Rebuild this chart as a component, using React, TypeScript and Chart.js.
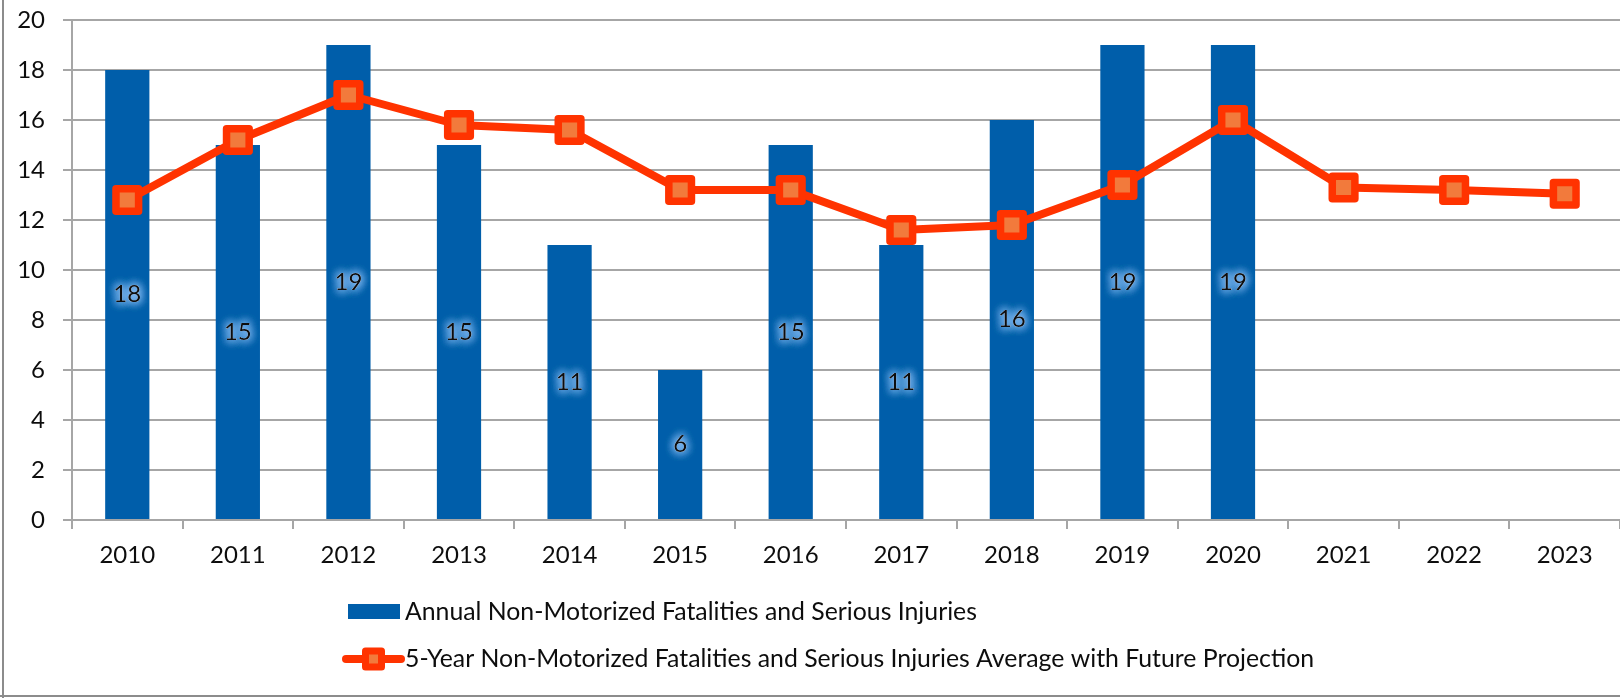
import React, { useEffect, useRef } from "react";
import { Chart, registerables } from "chart.js";

Chart.register(...registerables);

const years = ["2010", "2011", "2012", "2013", "2014", "2015", "2016", "2017", "2018", "2019", "2020", "2021", "2022", "2023"];
const annualValues = [18, 15, 19, 15, 11, 6, 15, 11, 16, 19, 19, null, null, null];
const fiveYearAvg = [12.8, 15.2, 17.0, 15.8, 15.6, 13.2, 13.2, 11.6, 11.8, 13.4, 16.0, 13.3, 13.2, 13.05];
const barLabel = "Annual Non-Motorized Fatalities and Serious Injuries";
const lineLabel = "5-Year Non-Motorized Fatalities and Serious Injuries Average with Future Projection";

const BAR_COLOR = "#005EAA";
const LINE_COLOR = "#FF3300";
const MARKER_FILL = "#F27A3C";
const GRID = "#A6A6A6";
const FONT = "Lato";
const FS = 24;
const LEGEND_FS = 24.8;

const W = 1620;
const H = 698;

function drawMarker(ctx: CanvasRenderingContext2D, x: number, y: number, side: number, lw: number) {
  ctx.save();
  ctx.lineJoin = "round";
  ctx.lineWidth = lw;
  ctx.strokeStyle = LINE_COLOR;
  ctx.fillStyle = MARKER_FILL;
  ctx.beginPath();
  ctx.rect(x - side / 2, y - side / 2, side, side);
  ctx.fill();
  ctx.stroke();
  ctx.restore();
}

const decorPlugin = {
  id: "decor",
  beforeDraw(chart: any) {
    const ctx = chart.ctx;
    ctx.save();
    ctx.fillStyle = "#ffffff";
    ctx.fillRect(0, 0, W, H);
    ctx.fillStyle = "#8C8C8C";
    ctx.fillRect(2, 0, 2, H);
    ctx.fillRect(0, 695, W, 2);
    ctx.restore();
  },
  beforeDatasetDraw(chart: any) {
    chart.ctx.lineJoin = "round";
  },
  afterDatasetsDraw(chart: any) {
    const ctx = chart.ctx;
    const meta = chart.getDatasetMeta(0);
    ctx.save();
    ctx.font = `${FS}px ${FONT}`;
    ctx.textAlign = "center";
    ctx.textBaseline = "middle";
    meta.data.forEach((bar: any, i: number) => {
      const v = annualValues[i];
      if (v == null) return;
      const x = bar.x;
      const y = (bar.y + bar.base) / 2;
      const t = String(v);
      ctx.shadowColor = "rgba(150,200,255,1)";
      ctx.shadowBlur = 10;
      ctx.fillStyle = "rgba(180,215,255,1)";
      for (let k = 0; k < 4; k++) ctx.fillText(t, x, y);
      ctx.shadowBlur = 0;
      ctx.shadowColor = "transparent";
      ctx.fillStyle = "#0D0D0D";
      ctx.fillText(t, x, y);
    });
    ctx.restore();
  },
  afterDraw(chart: any) {
    const ctx = chart.ctx;
    ctx.save();
    // bar legend
    ctx.fillStyle = BAR_COLOR;
    ctx.fillRect(348, 604, 52, 15);
    ctx.font = `${LEGEND_FS}px ${FONT}`;
    ctx.fillStyle = "#0D0D0D";
    ctx.textAlign = "left";
    ctx.textBaseline = "middle";
    ctx.fillText(barLabel, 405, 612);
    // line legend
    ctx.strokeStyle = LINE_COLOR;
    ctx.lineWidth = 8;
    ctx.lineCap = "round";
    ctx.beginPath();
    ctx.moveTo(346, 659);
    ctx.lineTo(401, 659);
    ctx.stroke();
    drawMarker(ctx, 373.5, 659, 16, 7);
    ctx.fillStyle = "#0D0D0D";
    ctx.fillText(lineLabel, 405, 659);
    ctx.restore();
  },
};

export default function App() {
  const ref = useRef<HTMLCanvasElement>(null);
  useEffect(() => {
    if (!ref.current) return;
    const chart = new Chart(ref.current, {
      type: "bar",
      data: {
        labels: years,
        datasets: [
          {
            type: "bar",
            label: barLabel,
            data: annualValues as any,
            backgroundColor: BAR_COLOR,
            borderWidth: 0,
            barPercentage: 0.8,
            categoryPercentage: 0.5,
            order: 2,
          },
          {
            type: "line",
            label: lineLabel,
            data: fiveYearAvg,
            borderColor: LINE_COLOR,
            borderWidth: 8,
            borderJoinStyle: "round",
            pointStyle: "rect",
            pointRadius: 16,
            pointBorderWidth: 7.5,
            pointBackgroundColor: MARKER_FILL,
            pointBorderColor: LINE_COLOR,
            tension: 0,
            clip: false,
            order: 1,
          } as any,
        ],
      },
      options: {
        responsive: false,
        animation: false,
        layout: { autoPadding: false, padding: { top: 20, right: 0, bottom: 0, left: 0 } },
        plugins: {
          legend: { display: false },
          tooltip: { enabled: false },
        },
        scales: {
          x: {
            offset: true,
            grid: {
              offset: true,
              drawOnChartArea: false,
              drawTicks: true,
              tickLength: 9,
              color: GRID,
              lineWidth: 2,
            },
            border: { color: GRID, width: 2 },
            ticks: {
              color: "#0D0D0D",
              font: { family: FONT, size: FS },
              padding: 12,
              maxRotation: 0,
            },
            afterFit: (s: any) => {
              s.height = 178;
              s.paddingLeft = 0;
              s.paddingRight = 0;
            },
          },
          y: {
            min: 0,
            max: 20,
            ticks: {
              stepSize: 2,
              color: "#0D0D0D",
              font: { family: FONT, size: FS },
              padding: 18,
            },
            grid: {
              color: GRID,
              lineWidth: 2,
              tickLength: 9,
              drawTicks: true,
            },
            border: { color: GRID, width: 2 },
            afterFit: (s: any) => {
              s.width = 72;
              s.paddingTop = 0;
              s.paddingBottom = 0;
            },
          },
        },
      },
      plugins: [decorPlugin],
    });
    return () => chart.destroy();
  }, []);
  return (
    <div style={{ position: "fixed", left: 0, top: 0, width: W, height: H, background: "#fff" }}>
      <canvas ref={ref} width={W} height={H} style={{ display: "block", width: W, height: H }} />
    </div>
  );
}
